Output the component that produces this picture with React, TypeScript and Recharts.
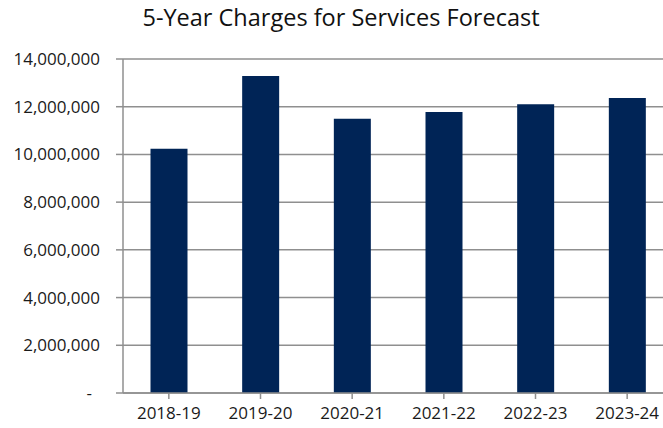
import React from "react";
import { BarChart, Bar, XAxis, YAxis, CartesianGrid } from "recharts";

const categories = ["2018-19", "2019-20", "2020-21", "2021-22", "2022-23", "2023-24"];
const charges = [10240000, 13290000, 11500000, 11780000, 12100000, 12370000];
const yTicks = [0, 2000000, 4000000, 6000000, 8000000, 10000000, 12000000, 14000000];
const title = "5-Year Charges for Services Forecast";

const data = categories.map((c, i) => ({ year: c, value: charges[i] }));

const FONT = "'Open Sans', sans-serif";

const YTick = (props: any) => {
  const { x, y, payload } = props;
  const v = payload.value as number;
  const label = v === 0 ? "-" : v.toLocaleString("en-US");
  return (
    <text
      x={v === 0 ? x - 8 : x}
      y={y}
      dy="0.35em"
      textAnchor="end"
      fill="#1a1a1a"
      fontFamily={FONT}
      fontSize={17}
    >
      {label}
    </text>
  );
};

export default function App() {
  return (
    <div
      style={{
        position: "absolute",
        left: 0,
        top: 0,
        width: 663,
        height: 428,
        overflow: "hidden",
        background: "#fff",
      }}
    >
      <div
        style={{
          position: "absolute",
          left: 0,
          width: 682,
          top: 2,
          textAlign: "center",
          fontFamily: FONT,
          fontSize: 23.5,
          lineHeight: "30px",
          color: "#111",
          whiteSpace: "nowrap",
        }}
      >
        {title}
      </div>
      <BarChart
        width={673}
        height={428}
        data={data}
        margin={{ top: 59, right: 0, bottom: 0, left: 13 }}
        barCategoryGap="30%"
      >
        <CartesianGrid vertical={false} stroke="#8f8f8f" strokeWidth={1.5} />
        <XAxis
          dataKey="year"
          height={35}
          tickSize={6}
          tickMargin={8}
          stroke="#8f8f8f"
          strokeWidth={1.5}
          tick={{ fill: "#1a1a1a", fontFamily: FONT, fontSize: 17 }}
          interval={0}
        />
        <YAxis
          width={110}
          domain={[0, 14000000]}
          ticks={yTicks}
          tickSize={7}
          tickMargin={16}
          stroke="#8f8f8f"
          strokeWidth={1.5}
          tick={<YTick />}
          interval={0}
        />
        <Bar dataKey="value" fill="#002456" isAnimationActive={false} />
      </BarChart>
    </div>
  );
}
